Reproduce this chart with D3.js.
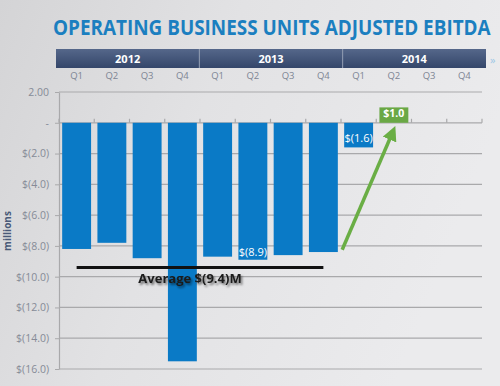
<!DOCTYPE html>
<html>
<head>
<meta charset="utf-8">
<script src="https://cdn.jsdelivr.net/npm/d3@7"></script>
<style>
  html, body { margin: 0; padding: 0; }
  body { width: 500px; height: 386px; overflow: hidden; }
  svg { display: block; font-family: "Open Sans", "DejaVu Sans", sans-serif; }
</style>
</head>
<body>
<div id="chart"></div>
<script>
// data (millions)
let years = ["2012", "2013", "2014"]
let quarters = ["Q1", "Q2", "Q3", "Q4"]
let ebitda = [-8.2, -7.8, -8.8, -15.5, -8.7, -8.9, -8.6, -8.4, -1.6, 1.0, null, null]
let yTicks = [2, 0, -2, -4, -6, -8, -10, -12, -14, -16]
let labelled = ["2013 Q2", "2014 Q1", "2014 Q2"]
let average = -9.4
let averageFrom = "2012 Q1"
let averageTo = "2013 Q4"
let arrowFrom = { key: "2013 Q4", pos: 1.15, value: -8.25 }
let arrowTo = { key: "2014 Q2", pos: 0.45, value: -0.65 }

let keys = []
years.forEach(yr => quarters.forEach(q => keys.push(yr + " " + q)))
let data = keys.map((k, i) => ({ key: k, year: k.split(" ")[0], q: k.split(" ")[1], value: ebitda[i] }))

let width = 500
let height = 386
let margin = { top: 92, right: 18, bottom: 17, left: 59 }

let x = d3.scaleBand()
    .domain(keys)
    .range([margin.left, width - margin.right])
    .paddingInner(0.18)
    .paddingOuter(0.09)

let y = d3.scaleLinear()
    .domain([-16, 2])
    .range([height - margin.bottom, margin.top])

let fmt = v => v === 0 ? "-" : v > 0 ? v.toFixed(2) : `$(${(-v).toFixed(1)})`
let money = v => v >= 0 ? `$${v.toFixed(1)}` : `$(${(-v).toFixed(1)})`

let svg = d3.select("#chart").append("svg")
    .attr("width", width)
    .attr("height", height)

let defs = svg.append("defs")
let bg = defs.append("linearGradient").attr("id", "bg")
    .attr("x1", 0).attr("y1", 0).attr("x2", 1).attr("y2", 0.3)
bg.append("stop").attr("offset", 0).attr("stop-color", "#d4d4d6")
bg.append("stop").attr("offset", 0.45).attr("stop-color", "#e2e2e4")
bg.append("stop").attr("offset", 1).attr("stop-color", "#ebebed")

let band = defs.append("linearGradient").attr("id", "band")
    .attr("x1", 0).attr("y1", 0).attr("x2", 0).attr("y2", 1)
band.append("stop").attr("offset", 0).attr("stop-color", "#55678a")
band.append("stop").attr("offset", 1).attr("stop-color", "#34466a")

let shadow = defs.append("filter").attr("id", "shadow")
    .attr("x", -0.1).attr("y", -0.3).attr("width", 1.3).attr("height", 1.8)
shadow.append("feDropShadow").attr("dx", 1.5).attr("dy", 2)
    .attr("stdDeviation", 1.2).attr("flood-color", "#000").attr("flood-opacity", 0.55)

defs.append("marker").attr("id", "head")
    .attr("viewBox", "0 0 10 10").attr("refX", 5).attr("refY", 5)
    .attr("markerWidth", 4.2).attr("markerHeight", 4.2)
    .attr("orient", "auto")
    .append("path").attr("d", "M0,0 L10,5 L0,10 Z").attr("fill", "#6aae45")

svg.append("rect").attr("width", width).attr("height", height).attr("fill", "url(#bg)")

// title, squeezed horizontally to the reference width
let title = svg.append("text")
    .attr("x", 0).attr("y", 0)
    .attr("font-size", 21).attr("font-weight", 700)
    .attr("fill", "#1b7fc0")
    .text("OPERATING BUSINESS UNITS ADJUSTED EBITDA")
let tw = title.node().getComputedTextLength()
title.attr("transform", `translate(53,35) scale(${438 / tw},1)`)

// year header band
let hdr = svg.append("g")
let yw = (486 - 56) / years.length
years.forEach((yr, i) => {
  hdr.append("rect")
      .attr("x", 56 + i * yw).attr("y", 49)
      .attr("width", yw).attr("height", 19)
      .attr("fill", "url(#band)")
  if (i > 0) hdr.append("line")
      .attr("x1", 56 + i * yw).attr("x2", 56 + i * yw)
      .attr("y1", 49).attr("y2", 68)
      .attr("stroke", "#8e9ab0").attr("stroke-width", 1)
  hdr.append("text")
      .attr("x", 56 + i * yw + yw / 2).attr("y", 63)
      .attr("text-anchor", "middle")
      .attr("font-size", 11).attr("font-weight", 700)
      .attr("fill", "#fff")
      .text(yr)
})
svg.append("text")
    .attr("x", 490).attr("y", 64)
    .attr("font-size", 11).attr("fill", "#9cc7e6")
    .text("»")

// quarter labels
svg.append("g").selectAll("text").data(data).join("text")
    .attr("x", d => x(d.key) + x.bandwidth() / 2)
    .attr("y", 79)
    .attr("text-anchor", "middle")
    .attr("font-size", 9.5)
    .attr("fill", "#7d8594")
    .text(d => d.q)

// gridlines
svg.append("g").selectAll("line").data(yTicks).join("line")
    .attr("x1", margin.left).attr("x2", width - margin.right)
    .attr("y1", d => y(d)).attr("y2", d => y(d))
    .attr("stroke", "#a9a9ab").attr("stroke-width", 1.2)

// y axis
let yAxis = d3.axisLeft(y).tickValues(yTicks).tickFormat(fmt).tickSizeInner(4).tickSizeOuter(0)
let ya = svg.append("g")
    .attr("transform", `translate(${margin.left},0)`)
    .call(yAxis)
ya.select(".domain").attr("stroke", "#a9a9ab").attr("stroke-width", 1.2)
ya.selectAll(".tick line").attr("stroke", "#a9a9ab")
ya.selectAll(".tick text")
    .attr("x", -10)
    .attr("font-size", 10.5)
    .attr("font-family", "Open Sans, DejaVu Sans, sans-serif")
    .attr("fill", "#868b97")

svg.append("text")
    .attr("transform", `translate(11,231) rotate(-90)`)
    .attr("text-anchor", "middle")
    .attr("font-size", 10).attr("font-weight", 700)
    .attr("fill", "#4a5a78")
    .text("millions")

// small ticks on the zero line at band edges
let edges = keys.map(k => x(k) - (x.step() - x.bandwidth()) / 2).concat([width - margin.right])
svg.append("g").selectAll("line").data(edges).join("line")
    .attr("x1", d => d).attr("x2", d => d)
    .attr("y1", y(0) - 4).attr("y2", y(0))
    .attr("stroke", "#a9a9ab").attr("stroke-width", 1.2)

// bars
let bars = data.filter(d => d.value !== null)
svg.append("g").selectAll("rect").data(bars).join("rect")
    .attr("x", d => x(d.key))
    .attr("width", x.bandwidth())
    .attr("y", d => y(Math.max(0, d.value)))
    .attr("height", d => Math.abs(y(d.value) - y(0)))
    .attr("fill", d => d.value > 0 ? "#6aa845" : "#0a7ac6")

// value labels
svg.append("g").selectAll("text").data(bars.filter(d => labelled.includes(d.key))).join("text")
    .attr("x", d => x(d.key) + x.bandwidth() / 2)
    .attr("y", d => d.value > 0 ? y(d.value) + 10 : d.value > -3 ? y(0) + 19 : y(d.value) - 4)
    .attr("text-anchor", "middle")
    .attr("font-size", d => d.value > 0 ? 10.5 : 11)
    .attr("font-weight", d => d.value > 0 ? 700 : 400)
    .attr("fill", "#fff")
    .text(d => money(d.value))

// average line
let cx = k => x(k) + x.bandwidth() / 2
svg.append("line")
    .attr("x1", cx(averageFrom)).attr("x2", cx(averageTo))
    .attr("y1", y(average)).attr("y2", y(average))
    .attr("stroke", "#111").attr("stroke-width", 3)
svg.append("text")
    .attr("x", 190).attr("y", y(average) + 16)
    .attr("text-anchor", "middle")
    .attr("font-size", 13).attr("font-weight", 700)
    .attr("fill", "#1a1a1a")
    .attr("filter", "url(#shadow)")
    .text(`Average ${money(average)}M`)

// growth arrow
svg.append("line")
    .attr("x1", x(arrowFrom.key) + x.bandwidth() * arrowFrom.pos)
    .attr("y1", y(arrowFrom.value))
    .attr("x2", x(arrowTo.key) + x.bandwidth() * arrowTo.pos)
    .attr("y2", y(arrowTo.value))
    .attr("stroke", "#6aae45").attr("stroke-width", 3.5)
    .attr("marker-end", "url(#head)")
</script>
</body>
</html>
